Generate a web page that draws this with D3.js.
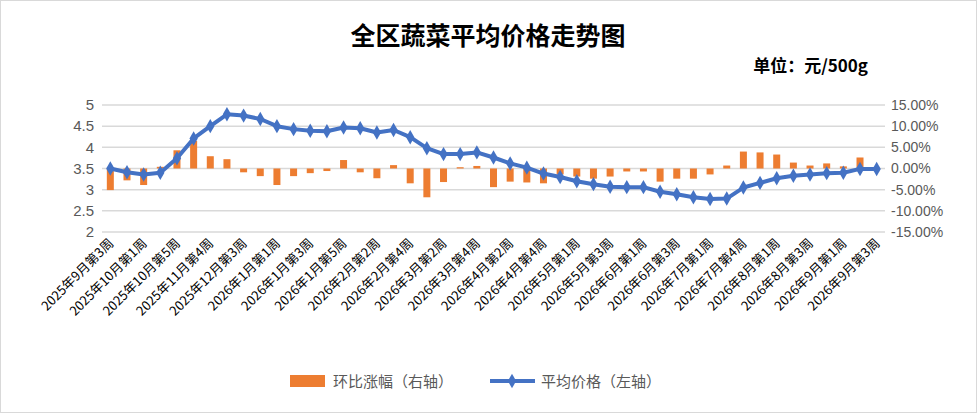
<!DOCTYPE html>
<html><head><meta charset="utf-8">
<script src="https://cdn.jsdelivr.net/npm/d3@7"></script>
<style>body{margin:0;background:#fff;} text{font-family:"Noto Sans CJK SC",sans-serif;}</style>
</head><body><div id="chart"></div>
<script>
// weekly categories
var weeks = ["2025年9月第3周","2025年9月第4周","2025年10月第1周","2025年10月第3周","2025年10月第5周","2025年11月第2周",
  "2025年11月第4周","2025年12月第1周","2025年12月第3周","2025年12月第4周","2026年1月第1周","2026年1月第2周",
  "2026年1月第3周","2026年1月第4周","2026年1月第5周","2026年2月第1周","2026年2月第2周","2026年2月第3周",
  "2026年2月第4周","2026年3月第1周","2026年3月第2周","2026年3月第3周","2026年3月第4周","2026年4月第1周",
  "2026年4月第2周","2026年4月第3周","2026年4月第4周","2026年4月第5周","2026年5月第1周","2026年5月第2周",
  "2026年5月第3周","2026年5月第4周","2026年6月第1周","2026年6月第2周","2026年6月第3周","2026年6月第4周",
  "2026年7月第1周","2026年7月第3周","2026年7月第4周","2026年7月第5周","2026年8月第1周","2026年8月第2周",
  "2026年8月第3周","2026年8月第4周","2026年9月第1周","2026年9月第2周","2026年9月第3周"];
var price = [3.50,3.41,3.36,3.40,3.74,4.21,4.50,4.78,4.75,4.67,4.50,4.43,4.39,4.38,4.47,4.45,4.35,4.41,4.24,3.98,
  3.84,3.84,3.88,3.76,3.62,3.52,3.38,3.30,3.20,3.13,3.07,3.06,3.06,2.95,2.89,2.82,2.78,2.79,3.05,3.16,3.27,3.33,
  3.36,3.39,3.40,3.49,3.49];
var change = [-5.1,-2.8,-3.9,0.4,4.3,6.5,2.9,2.2,-0.9,-1.8,-3.9,-1.8,-1.1,-0.6,2.0,-0.9,-2.3,0.8,-3.5,-6.8,
  -3.2,0.3,0.6,-4.4,-3.1,-3.3,-3.5,-1.4,-1.9,-2.4,-1.9,-0.7,-0.7,-3.1,-2.4,-2.4,-1.4,0.7,4.0,3.8,3.3,1.4,
  0.7,1.2,0.5,2.6,0];
var leftTicks = [2,2.5,3,3.5,4,4.5,5];
var rightTicks = [-15,-10,-5,0,5,10,15];

var W = 977, H = 413;
var margin = {top: 105, right: 92, bottom: 181, left: 102};
var width = W - margin.left - margin.right;
var height = H - margin.top - margin.bottom;

var svg = d3.select("#chart").append("svg").attr("width", W).attr("height", H);
svg.append("rect").attr("x", 0.5).attr("y", 0.5).attr("width", W - 1).attr("height", H - 1)
  .attr("fill", "#fff").attr("stroke", "#d9d9d9");

var g = svg.append("g").attr("transform", `translate(${margin.left},${margin.top})`);

var x = d3.scaleBand().domain(weeks).range([0, width]);
var yL = d3.scaleLinear().domain([2, 5]).range([height, 0]);
var yR = d3.scaleLinear().domain([-15, 15]).range([height, 0]);

// gridlines
g.selectAll(".grid").data(leftTicks).enter().append("line")
  .attr("x1", 0).attr("x2", width)
  .attr("y1", d => yL(d)).attr("y2", d => yL(d))
  .attr("stroke", "#d9d9d9").attr("stroke-width", 1.5);

// left axis
var axL = g.append("g").call(d3.axisLeft(yL).tickValues(leftTicks).tickSize(0).tickPadding(8).tickFormat(d3.format("")));
axL.select(".domain").remove();
axL.selectAll("text").attr("fill", "#595959").style("font-size", "15px").style("font-family", "Liberation Sans, sans-serif");

// right axis
var axR = g.append("g").attr("transform", `translate(${width},0)`)
  .call(d3.axisRight(yR).tickValues(rightTicks).tickSize(0).tickPadding(6).tickFormat(d => d.toFixed(2) + "%"));
axR.select(".domain").remove();
axR.selectAll("text").attr("fill", "#595959").style("font-size", "14px").style("font-family", "Liberation Sans, sans-serif");

// bars
var bw = 7;
g.selectAll(".bar").data(change).enter().append("rect")
  .attr("x", (d, i) => x(weeks[i]) + x.bandwidth() / 2 - bw / 2)
  .attr("y", d => yR(Math.max(0, d)))
  .attr("width", bw)
  .attr("height", d => Math.abs(yR(d) - yR(0)))
  .attr("fill", "#ED7D31");

// line
var line = d3.line().x((d, i) => x(weeks[i]) + x.bandwidth() / 2).y(d => yL(d));
g.append("path").attr("d", line(price)).attr("fill", "none")
  .attr("stroke", "#4472C4").attr("stroke-width", 4).attr("stroke-linejoin", "round");
var diamond = d3.symbol().type(d3.symbolDiamond).size(60);
g.selectAll(".pt").data(price).enter().append("path")
  .attr("d", diamond)
  .attr("transform", (d, i) => `translate(${x(weeks[i]) + x.bandwidth() / 2},${yL(d)})`)
  .attr("fill", "#4472C4");

// x labels, every other week
g.selectAll(".xl").data(weeks.filter((d, i) => i % 2 === 0)).enter().append("text")
  .attr("transform", d => `translate(${x(d) + x.bandwidth() / 2 + 4},${height + 12}) rotate(-45)`)
  .attr("text-anchor", "end")
  .attr("fill", "#000").style("font-size", "13px")
  .text(d => d);

// title
svg.append("text").attr("x", 488).attr("y", 45).attr("text-anchor", "middle")
  .style("font-size", "25px").style("font-weight", "bold").text("全区蔬菜平均价格走势图");
svg.append("text").attr("x", 868).attr("y", 72).attr("text-anchor", "end")
  .style("font-size", "17px").style("font-weight", "bold").text("单位：元/500g");

// legend
var lg = svg.append("g").attr("transform", "translate(0,381)");
lg.append("rect").attr("x", 290).attr("y", -6).attr("width", 35).attr("height", 12).attr("fill", "#ED7D31");
lg.append("text").attr("x", 333).attr("y", 6).attr("fill", "#595959").style("font-size", "15px").text("环比涨幅（右轴）");
lg.append("line").attr("x1", 490).attr("x2", 535).attr("y1", 0).attr("y2", 0)
  .attr("stroke", "#4472C4").attr("stroke-width", 4);
lg.append("path").attr("d", diamond).attr("transform", "translate(512,0)").attr("fill", "#4472C4");
lg.append("text").attr("x", 541).attr("y", 6).attr("fill", "#595959").style("font-size", "15px").text("平均价格（左轴）");
</script></body></html>
